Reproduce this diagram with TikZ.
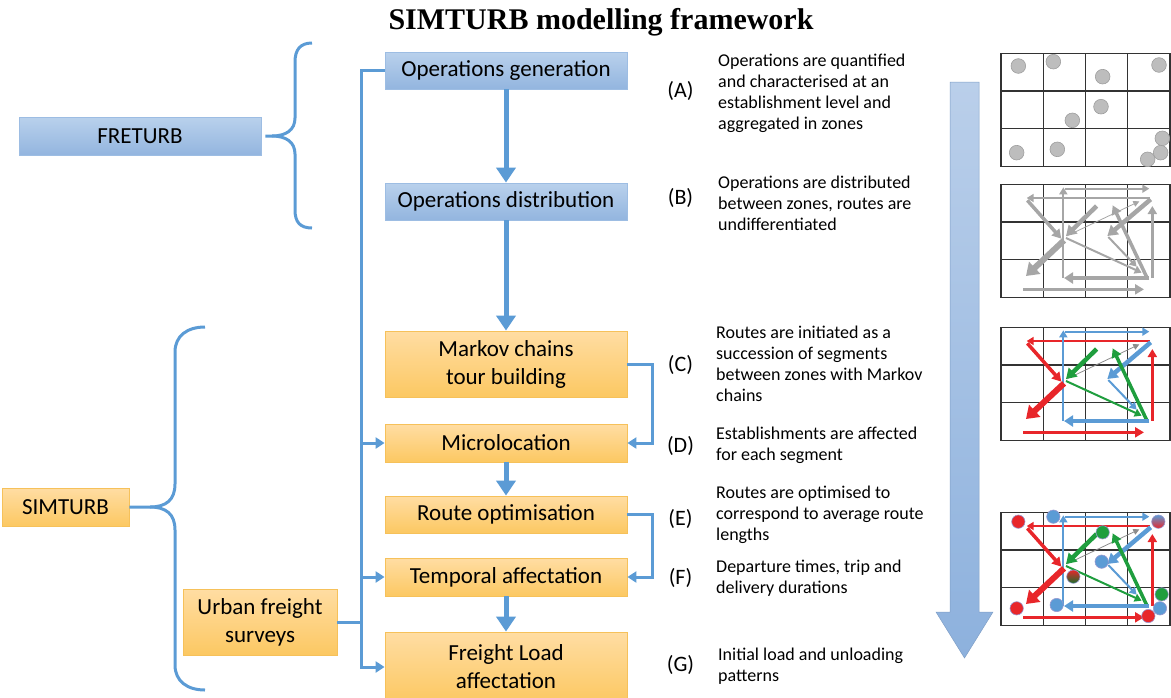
\documentclass[tikz,border=0pt]{standalone}
\usepackage{fontspec}
\setmainfont{Carlito}
\newfontfamily\titlefont{Liberation Serif}
\usetikzlibrary{arrows.meta}
\definecolor{lblue}{HTML}{5B9BD5}
\definecolor{bluetop}{HTML}{B9D1EC}
\definecolor{bluebot}{HTML}{93B5DF}
\definecolor{blueedge}{HTML}{9DBDE3}
\definecolor{ortop}{HTML}{FFDDA3}
\definecolor{orbot}{HTML}{FCC862}
\definecolor{oredge}{HTML}{F6C15A}
\definecolor{rred}{HTML}{E8262A}
\definecolor{rblue}{HTML}{5B9BD5}
\definecolor{rgreen}{HTML}{1F9E3E}
\definecolor{rgray}{HTML}{A6A6A6}
\definecolor{thinc}{HTML}{8C8C8C}
\definecolor{dotgray}{HTML}{BDBDBD}
\definecolor{dotedge}{HTML}{9E9E9E}
\definecolor{bigtop}{HTML}{BACFEA}
\definecolor{bigbot}{HTML}{8DB1DD}
\newcommand\gridlines{%
  \draw[gridl] (33,37) rectangle (540,377);
  \draw[gridl] (160,37)--(160,377) (287,37)--(287,377) (413,37)--(413,377)
               (33,150)--(540,150) (33,262)--(540,262);}
% #1 red, #2 blue, #3 green, #4 thin
\newcommand\routes[4]{%
  \draw[draw=#1, line width=2pt, -{Triangle[length=7pt,width=8pt]}] (480,78) -- (110,78);
  \draw[draw=#1, line width=3.5pt, -{Triangle[length=9pt,width=10pt]}] (112,85) -- (214,200);
  \draw[draw=#2, line width=2pt, -{Triangle[length=7pt,width=8pt]}] (220,318) -- (220,46);
  \draw[draw=#2, line width=2pt, -{Triangle[length=7pt,width=8pt]}] (224,50) -- (478,50);
  \draw[draw=#4, line width=0.8pt, -{Triangle[length=6pt,width=6pt]}] (230,192) -- (448,88);
  \draw[draw=#3, line width=2pt, -{Triangle[length=7pt,width=8pt]}] (228,198) -- (455,302);
  \draw[draw=#2, line width=2pt, -{Triangle[length=7pt,width=8pt]}] (355,195) -- (440,284);
  \draw[draw=#3, line width=4.5pt, -{Triangle[length=10pt,width=12pt]}] (320,102) -- (228,192);
  \draw[draw=#2, line width=4.5pt, -{Triangle[length=10pt,width=12pt]}] (482,82) -- (352,192);
  \draw[draw=#3, line width=3.5pt, -{Triangle[length=9pt,width=10pt]}] (470,315) -- (368,100);
  \draw[draw=#1, line width=2.5pt, -{Triangle[length=8pt,width=9pt]}] (487,318) -- (487,102);
  \draw[draw=#2, line width=4pt, -{Triangle[length=9pt,width=11pt]}] (478,318) -- (222,318);
  \draw[draw=#1, line width=6pt, -{Triangle[length=12pt,width=16pt]}] (222,205) -- (108,312);
  \draw[draw=#1, line width=3.5pt, -{Triangle[length=9pt,width=10pt]}] (100,352) -- (462,352);}
\begin{document}
\begin{tikzpicture}[x=1pt,y=-1pt,
  bbox/.style={draw=blueedge, top color=bluetop, bottom color=bluebot, line width=0.8pt,
    minimum width=242pt, minimum height=37pt, inner sep=0pt, align=center,
    font=\fontsize{23}{28}\selectfont},
  obox/.style={bbox, draw=oredge, top color=ortop, bottom color=orbot},
  conn/.style={draw=lblue, line width=3pt},
  tip/.style={-{Triangle[length=9pt,width=11pt]}},
  down/.style={draw=lblue, line width=5pt, -{Triangle[length=15pt,width=19pt]}},
  desc/.style={align=left, inner sep=0pt, font=\fontsize{18}{21}\selectfont, anchor=base west},
  lbl/.style={inner sep=0pt, font=\fontsize{22}{26}\selectfont},
  gridl/.style={draw=black!80, line width=1.3pt},
  dot/.style={fill=dotgray, draw=dotedge, line width=0.6pt},
  cdot/.style={draw=black!45!blue!40, line width=0.6pt}]
\useasboundingbox (0,0) rectangle (1171,697);

% title
\node[anchor=base, font=\titlefont\bfseries\fontsize{30}{34}\selectfont] (title) at (601,29) {SIMTURB modelling framework};

% boxes
\node[bbox] (gen) at (506,70.5) {Operations generation};
\node[bbox] (dist) at (506,201.5) {Operations distribution};
\node[obox, minimum height=66pt] (markov) at (506,364) {Markov chains\\tour building};
\node[obox, minimum height=38pt] (micro) at (506,443) {Microlocation};
\node[obox] (route) at (506,514.5) {Route optimisation};
\node[obox, minimum height=38pt] (temp) at (506,577) {Temporal affectation};
\node[obox, minimum height=70pt] (freight) at (506,667) {Freight Load\\affectation};
\node[bbox, minimum height=38pt] (fret) at (140,136) {FRETURB};
\node[obox, minimum width=127pt, minimum height=38pt] (sim) at (65.5,507) {SIMTURB};
\node[obox, minimum width=154pt, minimum height=66pt] (surv) at (260,622) {Urban freight\\surveys};

% down arrows
\draw[down] (gen.south) -- (dist.north);
\draw[down] (dist.south) -- (markov.north);
\draw[down] (micro.south) -- (route.north);
\draw[down] (temp.south) -- (freight.north);

% right side feedback
\draw[conn, tip] (markov.east) -- ++(25,0) |- (micro.east);
\draw[conn, tip] (route.east) -- ++(25,0) |- (temp.east);

% left connectors
\coordinate (xl) at (361,0);
\draw[conn] (gen.west) -- (gen.west -| xl) -- (temp.west -| xl);
\draw[conn, tip] (micro.west -| xl) -- (micro.west);
\draw[conn, tip] (temp.west -| xl) -- (temp.west);
\draw[conn] (surv.east) -- (surv.east -| xl) coordinate (sj);
\draw[conn, tip] (temp.west -| xl) |- (freight.west);

% braces
\draw[conn] ([xshift=4pt]fret.east) -- (272,136)
  .. controls (286,136) and (295,130) .. (295,118) -- (295,62)
  .. controls (295,50) and (300,43) .. (312,43);
\draw[conn] (272,136)
  .. controls (286,136) and (295,142) .. (295,154) -- (295,210)
  .. controls (295,222) and (300,228) .. (312,228);
\draw[conn] (sim.east) -- (150,507)
  .. controls (166,507) and (175,500) .. (175,484) -- (175,352)
  .. controls (175,336) and (187,327) .. (205,327);
\draw[conn] (150,507)
  .. controls (166,507) and (175,514) .. (175,530) -- (175,665)
  .. controls (175,681) and (187,690) .. (205,690);

% labels
\node[lbl] (la) at (680.5,91) {(A)};
\node[lbl] (lb) at (680.5,198) {(B)};
\node[lbl] (lc) at (680.5,365) {(C)};
\node[lbl] (ld) at (680.5,446) {(D)};
\node[lbl] (le) at (680.5,519) {(E)};
\node[lbl] (lf) at (680.5,578) {(F)};
\node[lbl] (lg) at (680.5,665) {(G)};

% descriptions (anchor = baseline of last line)
\node[desc] (da) at (718,129) {Operations are quantified\\and characterised at an\\establishment level and\\aggregated in zones};
\node[desc] (db) at (718,230) {Operations are distributed\\between zones, routes are\\undifferentiated};
\node[desc] (dc) at (716,401) {Routes are initiated as a\\succession of segments\\between zones with Markov\\chains};
\node[desc] (dd) at (716,460) {Establishments are affected\\for each segment};
\node[desc] (de) at (716,540) {Routes are optimised to\\correspond to average route\\lengths};
\node[desc] (df) at (716,593) {Departure times, trip and\\delivery durations};
\node[desc] (dg) at (718,681) {Initial load and unloading\\patterns};

% big arrow
\path[top color=bigtop, bottom color=bigbot, draw=bigbot!90!black, line width=0.5pt]
  (950,82) -- (979,82) -- (979,612) -- (993,612) -- (964.5,658) -- (936,612) -- (950,612) -- cycle;

% grid 1
\begin{scope}[shift={(990,41)}, scale=1/3]
  \gridlines
  \foreach \p in {(85,75),(190,62),(338,107),(507,72),(333,197),(247,238),(80,335),(202,325),(517,292),(512,335),(473,355)}
    \path[dot] \p circle (22);
\end{scope}

% grid 2
\begin{scope}[shift={(990,172)}, scale=1/3]
  \gridlines
  \routes{rgray}{rgray}{rgray}{rgray}
\end{scope}

% grid 3
\begin{scope}[shift={(990,315)}, scale=1/3]
  \gridlines
  \routes{rred}{rblue}{rgreen}{thinc}
\end{scope}

% grid 4
\begin{scope}[shift={(990,500)}, scale=1/3]
  \gridlines
  \routes{rred}{rblue}{rgreen}{thinc}
  \path[cdot, fill=rred] (85,65) circle (20);
  \path[cdot, fill=rblue] (190,50) circle (20);
  \path[cdot, top color=rblue, bottom color=rred] (505,65) circle (20);
  \path[cdot, fill=rgreen] (338,97) circle (20);
  \path[cdot, fill=rblue] (335,185) circle (20);
  \path[cdot, top color=rred, bottom color=rgreen!70!black] (250,230) circle (20);
  \path[cdot, fill=rred] (80,325) circle (20);
  \path[cdot, fill=rblue] (200,315) circle (20);
  \path[cdot, fill=rgreen] (515,283) circle (20);
  \path[cdot, fill=rblue] (510,325) circle (20);
  \path[cdot, fill=rred] (475,348) circle (20);
\end{scope}
\end{tikzpicture}
\end{document}
